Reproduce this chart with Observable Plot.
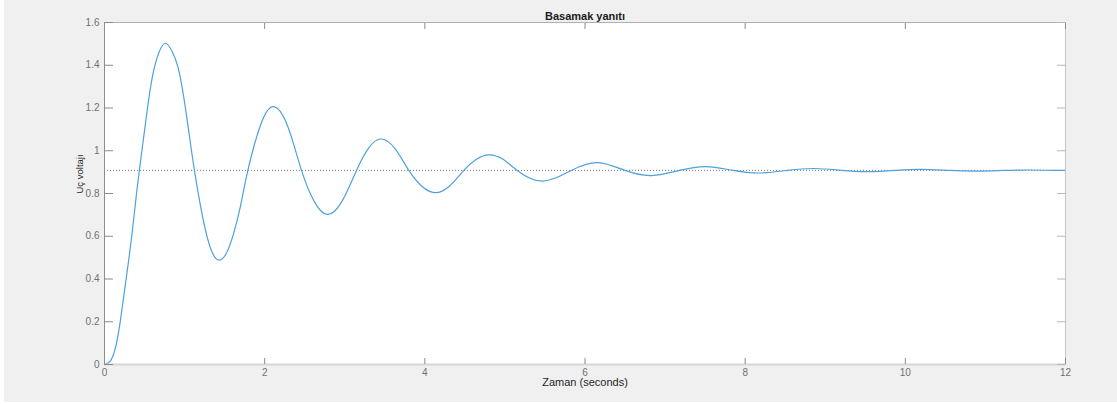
<!DOCTYPE html>
<html><head><meta charset="utf-8">
<script src="https://cdn.jsdelivr.net/npm/d3@7"></script>
<script src="https://cdn.jsdelivr.net/npm/@observablehq/plot@0.6"></script>
<style>
body{margin:0;background:#fff;}
#chart{position:absolute;left:4px;top:0;}
</style></head><body><div id="chart"></div>
<script>
const time = [0, 0.05, 0.1, 0.15, 0.2, 0.27, 0.34, 0.40, 0.46, 0.53, 0.60, 0.68, 0.762, 0.84, 0.915, 0.99, 1.06, 1.12, 1.19, 1.27, 1.35, 1.432, 1.52, 1.61, 1.70, 1.79, 1.948, 2.106, 2.283, 2.46, 2.62, 2.78, 2.963, 3.147, 3.297, 3.446, 3.623, 3.80, 3.963, 4.125, 4.306, 4.487, 4.644, 4.80, 4.977, 5.153, 5.47, 5.83, 6.16, 6.50, 6.83, 7.18, 7.51, 7.85, 8.18, 8.53, 8.86, 9.2, 9.53, 9.88, 10.2, 10.55, 10.88, 11.22, 11.56, 11.9, 12];
const voltage = [0, 0.008, 0.035, 0.1, 0.21, 0.4, 0.6, 0.8, 0.98, 1.18, 1.35, 1.46, 1.503, 1.468, 1.395, 1.25, 1.07, 0.915, 0.76, 0.615, 0.52, 0.488, 0.519, 0.61, 0.745, 0.908, 1.119, 1.206, 1.119, 0.908, 0.762, 0.702, 0.762, 0.908, 1.012, 1.055, 1.012, 0.908, 0.834, 0.804, 0.834, 0.908, 0.960, 0.981, 0.960, 0.908, 0.858, 0.908, 0.944, 0.908, 0.884, 0.908, 0.926, 0.908, 0.896, 0.908, 0.917, 0.908, 0.902, 0.908, 0.913, 0.908, 0.905, 0.908, 0.910, 0.908, 0.908];
const steadyState = [0.908];
const xTicks = [0, 2, 4, 6, 8, 10, 12];
const yTicks = [0, 0.2, 0.4, 0.6, 0.8, 1, 1.2, 1.4, 1.6];
const title = "Basamak yanıtı";
const xLabel = "Zaman (seconds)";
const yLabel = "Uç voltajı";

const data = time.map((t, i) => ({t, v: voltage[i]}));
const font = "'Liberation Sans', Arial, Helvetica, sans-serif";
const tickColor = "#8c8c8c";
const labelColor = "#707070";
const fmt = d => String(+(+d).toFixed(1));

const chart = Plot.plot({
  width: 1113, height: 402,
  marginLeft: 100, marginRight: 52, marginTop: 22, marginBottom: 38,
  style: {background: "#f0f0f0", fontFamily: font, fontSize: "10px", color: labelColor, overflow: "visible"},
  x: {domain: [0, 12]},
  y: {domain: [0, 1.6]},
  marks: [
    Plot.frame({fill: "white", stroke: null}),
    Plot.ruleY(steadyState, {stroke: "#808080", strokeDasharray: "1,2", strokeWidth: 1}),
    Plot.line(data, {x: "t", y: "v", stroke: "#4da2dc", strokeWidth: 1.2, curve: "natural"}),
    Plot.ruleX([0], {stroke: "#8c8c8c"}),
    Plot.ruleX([12], {stroke: "#c4c4c4"}),
    Plot.ruleY([0], {stroke: "#d6d6d6", strokeWidth: 2}),
    Plot.ruleY([1.6], {stroke: "#b0b0b0"}),
    Plot.axisY({ticks: yTicks, anchor: "left", tickSize: 9, dx: 9, fill: "none", stroke: tickColor, label: null}),
    Plot.axisY({ticks: yTicks, anchor: "right", tickSize: 9, dx: -9, fill: "none", stroke: "#b8b8b8", label: null}),
    Plot.axisX({ticks: xTicks, anchor: "bottom", tickSize: 6, dy: -6, fill: "none", stroke: tickColor, label: null}),
    Plot.axisX({ticks: xTicks, anchor: "top", tickSize: 6, dy: 6, fill: "none", stroke: tickColor, label: null}),
    Plot.axisY({ticks: yTicks, anchor: "left", tickSize: 0, tickPadding: 5, tickFormat: fmt, fill: labelColor, label: null}),
    Plot.axisX({ticks: xTicks, anchor: "bottom", tickSize: 0, tickPadding: 4, tickFormat: fmt, fill: labelColor, label: null}),
    Plot.text([title], {frameAnchor: "top", dy: -10, text: d => d, fontWeight: "bold", fontSize: 11, fill: "#1a1a1a"}),
    Plot.text([xLabel], {frameAnchor: "bottom", dy: 21, text: d => d, fontSize: 11, fill: "#262626"}),
    Plot.text([yLabel], {frameAnchor: "left", dx: -25, rotate: -90, text: d => d, fontSize: 9.5, fill: "#262626"})
  ]
});
document.getElementById("chart").append(chart);
</script></body></html>
